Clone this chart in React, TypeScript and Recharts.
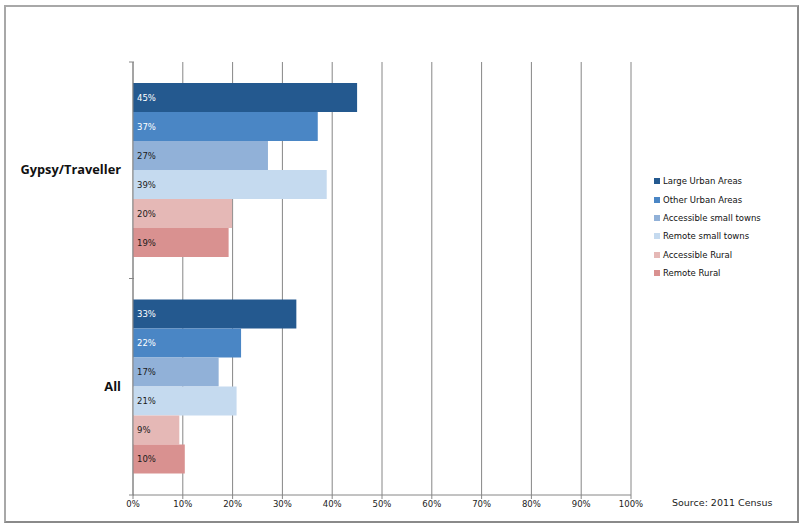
import React from "react";
import {
  BarChart,
  Bar,
  XAxis,
  YAxis,
  CartesianGrid,
  LabelList,
} from "recharts";

const categories = ["Gypsy/Traveller", "All"];

const seriesNames = [
  "Large Urban Areas",
  "Other Urban Areas",
  "Accessible small towns",
  "Remote small towns",
  "Accessible Rural",
  "Remote Rural",
];

const largeUrban = [45.0, 32.8];
const otherUrban = [37.1, 21.7];
const accessibleTowns = [27.1, 17.2];
const remoteTowns = [38.9, 20.8];
const accessibleRural = [19.9, 9.3];
const remoteRural = [19.2, 10.4];

const xTicks = [0, 10, 20, 30, 40, 50, 60, 70, 80, 90, 100];

const colors = ["#24598f", "#4a86c5", "#91b1d8", "#c5daef", "#e5b8b6", "#d99190"];
const labelColors = ["#ffffff", "#ffffff", "#1a1a1a", "#1a1a1a", "#1a1a1a", "#1a1a1a"];

const keys = ["s0", "s1", "s2", "s3", "s4", "s5"];
const allSeries = [largeUrban, otherUrban, accessibleTowns, remoteTowns, accessibleRural, remoteRural];

const data = categories.map((name, i) => {
  const row: any = { name };
  keys.forEach((k, j) => {
    row[k] = allSeries[j][i];
  });
  return row;
});

const TOP = 62;
const BOTTOM = 495;
const band = (BOTTOM - TOP) / categories.length;

function CategoryTick(props: any) {
  const { x, y, payload } = props;
  return (
    <g>
      <line x1={x + 4} x2={x + 9} y1={y - band / 2} y2={y - band / 2} stroke="#868686" />
      {payload.index === categories.length - 1 && (
        <line x1={x + 4} x2={x + 9} y1={y + band / 2} y2={y + band / 2} stroke="#868686" />
      )}
      <text
        x={x - 4}
        y={y}
        dy={4}
        textAnchor="end"
        fontFamily="'Open Sans', 'DejaVu Sans', sans-serif"
        fontWeight="bold"
        fontSize={12.8}
        fill="#111"
      >
        {payload.value}
      </text>
    </g>
  );
}

export default function App() {
  return (
    <div
      style={{
        position: "absolute",
        left: 0,
        top: 0,
        width: 803,
        height: 529,
        background: "#fff",
        fontFamily: "'DejaVu Sans', sans-serif",
      }}
    >
      <div
        style={{
          position: "absolute",
          left: 4,
          top: 5,
          width: 791,
          height: 514,
          border: "2px solid #a8a8a8",
          borderRightColor: "#8a8a8a",
          borderBottomColor: "#8a8a8a",
        }}
      />

      <BarChart
        width={803}
        height={529}
        data={data}
        layout="vertical"
        margin={{ top: TOP, right: 172, bottom: 10, left: 10 }}
        barCategoryGap={21}
        barGap={0}
        style={{ position: "absolute", left: 0, top: 0 }}
      >
        <CartesianGrid horizontal={false} stroke="#868686" />
        <XAxis
          type="number"
          domain={[0, 100]}
          ticks={xTicks}
          tickFormatter={(v: number) => `${v}%`}
          height={24}
          axisLine={{ stroke: "#868686" }}
          tickLine={{ stroke: "#868686" }}
          tickSize={4}
          tick={{ fontSize: 8.5, fill: "#222", fontFamily: "'DejaVu Sans', sans-serif" }}
          interval={0}
        />
        <YAxis
          type="category"
          dataKey="name"
          width={123}
          axisLine={{ stroke: "#868686" }}
          tickLine={false}
          tick={<CategoryTick />}
        />
        {keys.map((k, j) => (
          <Bar
            key={k}
            dataKey={k}
            name={seriesNames[j]}
            fill={colors[j]}
            isAnimationActive={false}
          >
            <LabelList
              dataKey={k}
              position="insideLeft"
              offset={4}
              formatter={(v: any) => `${Math.round(Number(v))}%`}
              fill={labelColors[j]}
              fontSize={8.5}
              fontFamily="'DejaVu Sans', sans-serif"
            />
          </Bar>
        ))}
      </BarChart>

      <div style={{ position: "absolute", left: 654, top: 172 }}>
        {seriesNames.map((n, j) => (
          <div
            key={n}
            style={{
              display: "flex",
              alignItems: "center",
              height: 18.4,
              fontSize: 8.5,
              color: "#111",
              whiteSpace: "nowrap",
            }}
          >
            <span
              style={{
                display: "inline-block",
                width: 6,
                height: 6,
                background: colors[j],
                marginRight: 3,
              }}
            />
            {n}
          </div>
        ))}
      </div>

      <div
        style={{
          position: "absolute",
          left: 672,
          top: 497,
          fontSize: 9.5,
          color: "#222",
          whiteSpace: "nowrap",
        }}
      >
        Source: 2011 Census
      </div>
    </div>
  );
}
